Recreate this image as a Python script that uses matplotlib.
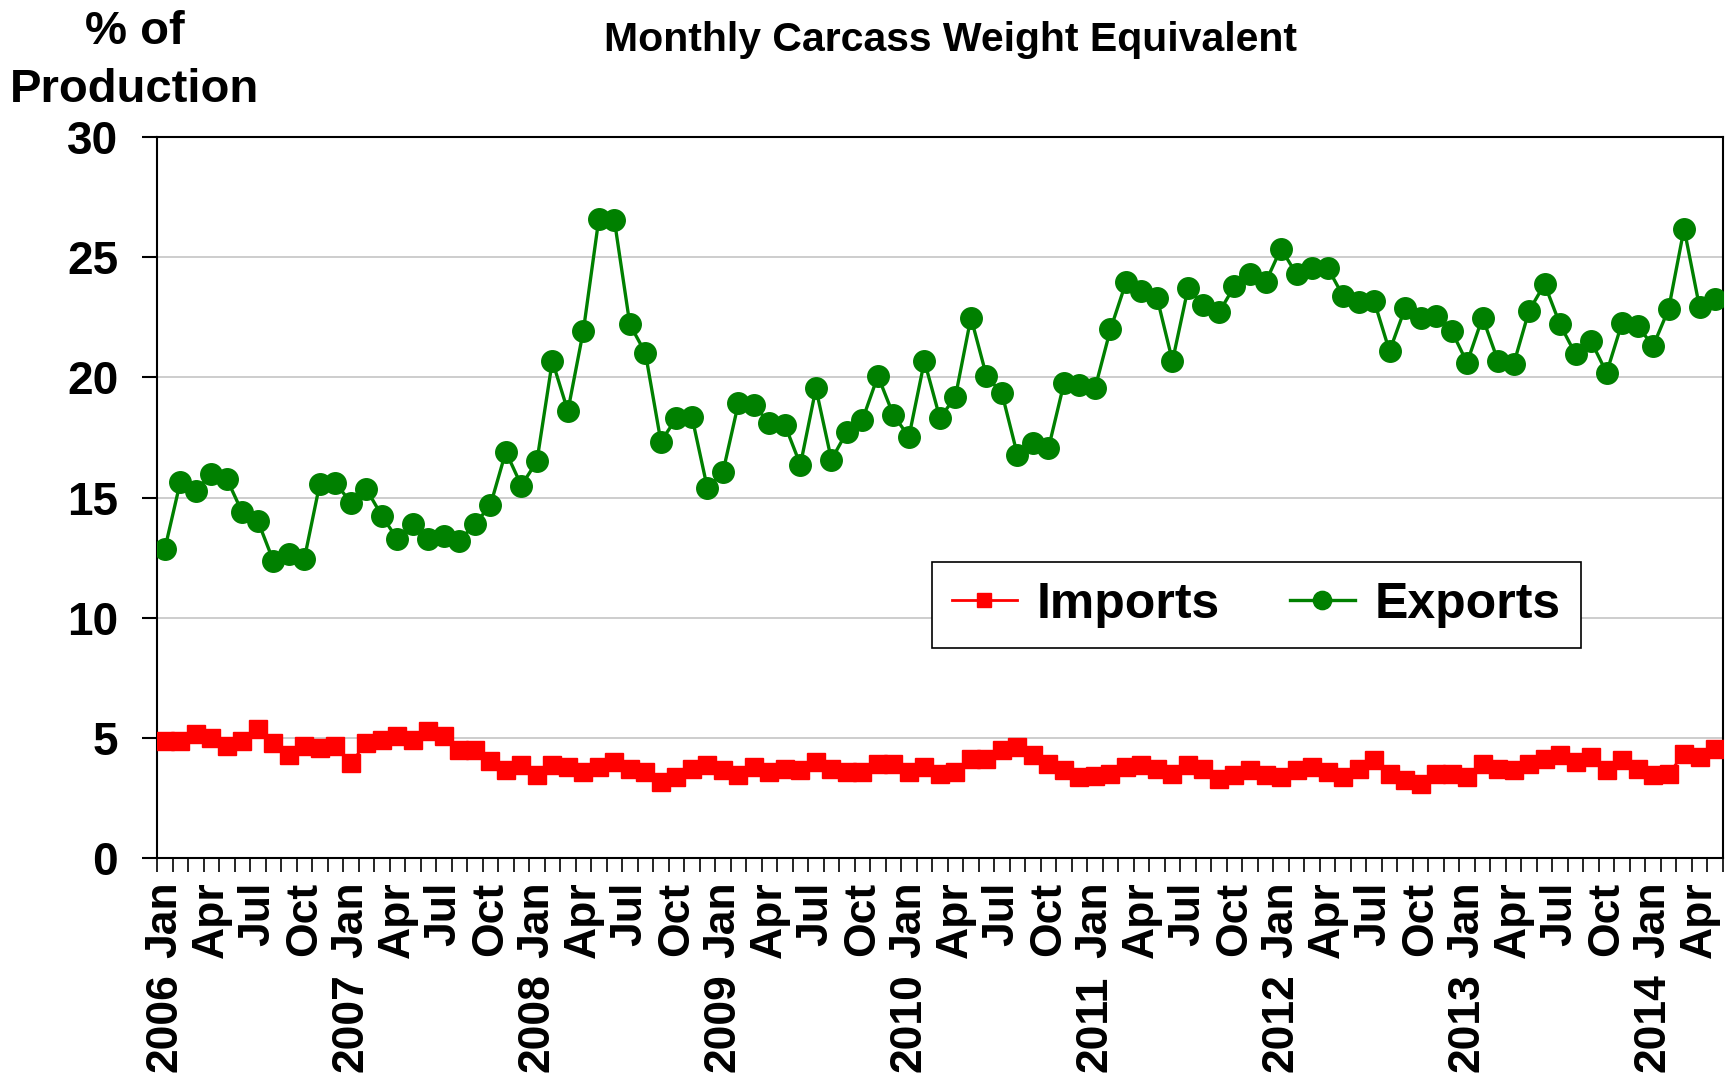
import matplotlib
matplotlib.use('Agg')
import matplotlib.pyplot as plt
import matplotlib.transforms as mtransforms

plt.rcParams['font.family'] = ['Liberation Sans', 'DejaVu Sans']
plt.rcParams['font.weight'] = 'bold'

# monthly data, Jan 2006 - May 2014
month_names = ['Jan', 'Feb', 'Mar', 'Apr', 'May', 'Jun',
               'Jul', 'Aug', 'Sep', 'Oct', 'Nov', 'Dec']
years = ['2006', '2007', '2008', '2009', '2010', '2011', '2012', '2013', '2014']

exports = [12.85, 15.64, 15.28, 15.98, 15.78, 14.38, 14.03, 12.37, 12.63, 12.44, 15.57, 15.62,
           14.79, 15.36, 14.24, 13.27, 13.89, 13.27, 13.41, 13.20, 13.90, 14.67, 16.91, 15.50,
           16.50, 20.68, 18.60, 21.94, 26.60, 26.54, 22.20, 21.02, 17.33, 18.30, 18.37, 15.39,
           16.05, 18.92, 18.85, 18.09, 18.02, 16.36, 19.54, 16.57, 17.74, 18.23, 20.06, 18.43,
           17.53, 20.68, 18.30, 19.20, 22.49, 20.06, 19.33, 16.77, 17.26, 17.05, 19.75, 19.68,
           19.54, 22.00, 23.95, 23.59, 23.32, 20.68, 23.70, 23.03, 22.70, 23.80, 24.29, 23.95,
           25.36, 24.29, 24.57, 24.57, 23.39, 23.12, 23.19, 21.09, 22.87, 22.45, 22.55, 21.94,
           20.61, 22.49, 20.68, 20.54, 22.77, 23.88, 22.20, 20.96, 21.51, 20.19, 22.27, 22.15,
           21.30, 22.84, 26.19, 22.91, 23.28]

imports = [4.86, 4.86, 5.14, 5.00, 4.65, 4.86, 5.35, 4.79, 4.30, 4.65, 4.58, 4.65,
           3.95, 4.79, 4.93, 5.07, 4.93, 5.28, 5.07, 4.51, 4.51, 4.02, 3.67, 3.88,
           3.46, 3.85, 3.77, 3.58, 3.78, 3.99, 3.72, 3.58, 3.16, 3.37, 3.72, 3.85,
           3.65, 3.44, 3.78, 3.58, 3.72, 3.65, 3.99, 3.72, 3.58, 3.58, 3.92, 3.92,
           3.58, 3.78, 3.51, 3.58, 4.13, 4.13, 4.48, 4.62, 4.27, 3.92, 3.65, 3.37,
           3.42, 3.51, 3.78, 3.85, 3.72, 3.51, 3.85, 3.72, 3.30, 3.44, 3.65, 3.44,
           3.37, 3.65, 3.78, 3.58, 3.37, 3.72, 4.06, 3.51, 3.23, 3.09, 3.51, 3.51,
           3.37, 3.92, 3.72, 3.65, 3.92, 4.13, 4.27, 3.99, 4.20, 3.65, 4.06, 3.72,
           3.44, 3.51, 4.34, 4.20, 4.55]

n = len(exports)
x = list(range(n))

fig = plt.figure(figsize=(17.35, 10.74), dpi=100)
ax = fig.add_axes([0.0905, 0.2011, 0.9025, 0.6713])

ax.plot(x, imports, color='#ff0000', lw=2.0, marker='s', ms=12.5, label='Imports', zorder=3)
ax.plot(x, exports, color='#008000', lw=2.4, marker='o', ms=15.5, label='Exports', zorder=3)

ax.set_xlim(-0.5, n - 0.5)
ax.set_ylim(0, 30)
ax.set_yticks(range(0, 31, 5))
ax.yaxis.grid(True, color='#c0c0c0', lw=1.1)
ax.set_axisbelow(True)

for s in ax.spines.values():
    s.set_color('black')
    s.set_linewidth(1.5)

# month labels every quarter, tick marks at every month boundary
ax.set_xticks(range(0, n, 3))
ax.set_xticklabels([month_names[i % 12] for i in range(0, n, 3)], rotation=90, va='top')
ax.set_xticks([i - 0.5 for i in range(n + 1)], minor=True)
ax.tick_params(axis='x', which='major', length=0, pad=17, labelsize=32)
ax.tick_params(axis='x', which='minor', length=10, width=1.2, color='black')
ax.tick_params(axis='y', length=11, width=1.5, pad=17, labelsize=33)

trans = mtransforms.blended_transform_factory(ax.transData, fig.transFigure)
for k, yr in enumerate(years):
    ax.text(k * 12, 0.002, yr, transform=trans, rotation=90, ha='center', va='bottom',
            fontsize=32, fontweight='bold')

fig.text(0.0778, 0.991, '% of\nProduction', ha='center', va='top', fontsize=34,
         fontweight='bold', linespacing=1.42)
fig.text(0.548, 0.963, 'Monthly Carcass Weight Equivalent', ha='center', va='center',
         fontsize=29.5, fontweight='bold')

leg = ax.legend(loc='center', bbox_to_anchor=(0.702, 0.351), ncol=2,
                prop={'weight': 'bold', 'size': 36}, fancybox=False, framealpha=1,
                edgecolor='black', handlelength=1.3, markerscale=0.85,
                columnspacing=1.4, handletextpad=0.4, borderpad=0.4)
leg.get_frame().set_linewidth(1.2)

plt.savefig('out.png', dpi=100)
